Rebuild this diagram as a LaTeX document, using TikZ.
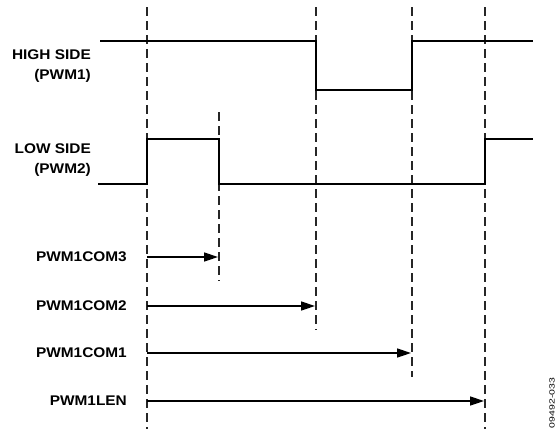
\documentclass[tikz,border=0pt]{standalone}
\usepackage{fontspec}
\setmainfont{Liberation Sans}
\newfontfamily\labfont{Liberation Sans}[FakeStretch=1.1]
\usetikzlibrary{arrows.meta}
\tikzset{
  sig/.style={line width=2pt, line join=miter},
  guide/.style={line width=1.3pt, draw=black!85, dash pattern=on 9pt off 5pt},
  span/.style={line width=1.5pt, -{Triangle[length=14pt,width=9pt]}, shorten >=1pt},
  lab/.style={font=\labfont\bfseries\fontsize{14}{20}\selectfont, align=right, anchor=east, inner sep=0pt},
}
\begin{document}
\begin{tikzpicture}[x=1pt,y=-1pt]
\useasboundingbox (0,0) rectangle (556,429);
% guide coordinates
\coordinate (t0) at (147,7);   \coordinate (b0) at (147,429);
\coordinate (t1) at (219,112); \coordinate (b1) at (219,281);
\coordinate (t2) at (316,7);   \coordinate (b2) at (316,330);
\coordinate (t3) at (412,7);   \coordinate (b3) at (412,377);
\coordinate (t4) at (485,7);   \coordinate (b4) at (485,429);
\draw[guide] (t0) -- (b0);
\draw[guide] (t1) -- (b1);
\draw[guide] (t2) -- (b2);
\draw[guide] (t3) -- (b3);
\draw[guide] (t4) -- (b4);
% high side
\coordinate (hs) at (100,41);
\coordinate (he) at (533,41);
\draw[sig] (hs) -- (316,41) -- (316,90) -- (412,90) -- (412,41) -- (he);
% low side
\coordinate (ls) at (98,184);
\coordinate (le) at (533,139);
\draw[sig] (ls) -- (147,184) -- (147,139) -- (219,139) -- (219,184) -- (485,184) -- (485,139) -- (le);
% labels
\node[lab] (hsl) at (91,66) {HIGH SIDE\\(PWM1)};
\node[lab] (lsl) at (91,160) {LOW SIDE\\(PWM2)};
\node[lab] (c3) at (127,257) {PWM1COM3};
\node[lab] (c2) at (127,306) {PWM1COM2};
\node[lab] (c1) at (127,353) {PWM1COM1};
\node[lab] (ln) at (127,401) {PWM1LEN};
% spans
\coordinate (s3) at (147,257); \coordinate (e3) at (219,257);
\coordinate (s2) at (147,306); \coordinate (e2) at (316,306);
\coordinate (s1) at (147,353); \coordinate (e1) at (412,353);
\coordinate (s0) at (147,401); \coordinate (e0) at (485,401);
\draw[span] (s3) -- (e3);
\draw[span] (s2) -- (e2);
\draw[span] (s1) -- (e1);
\draw[span] (s0) -- (e0);
% figure id
\node[rotate=90, inner sep=0pt, font=\fontsize{7.5}{8}\selectfont] (fid) at (552,403) {\scalebox{1.4}[1]{09492-033}};
\end{tikzpicture}
\end{document}
